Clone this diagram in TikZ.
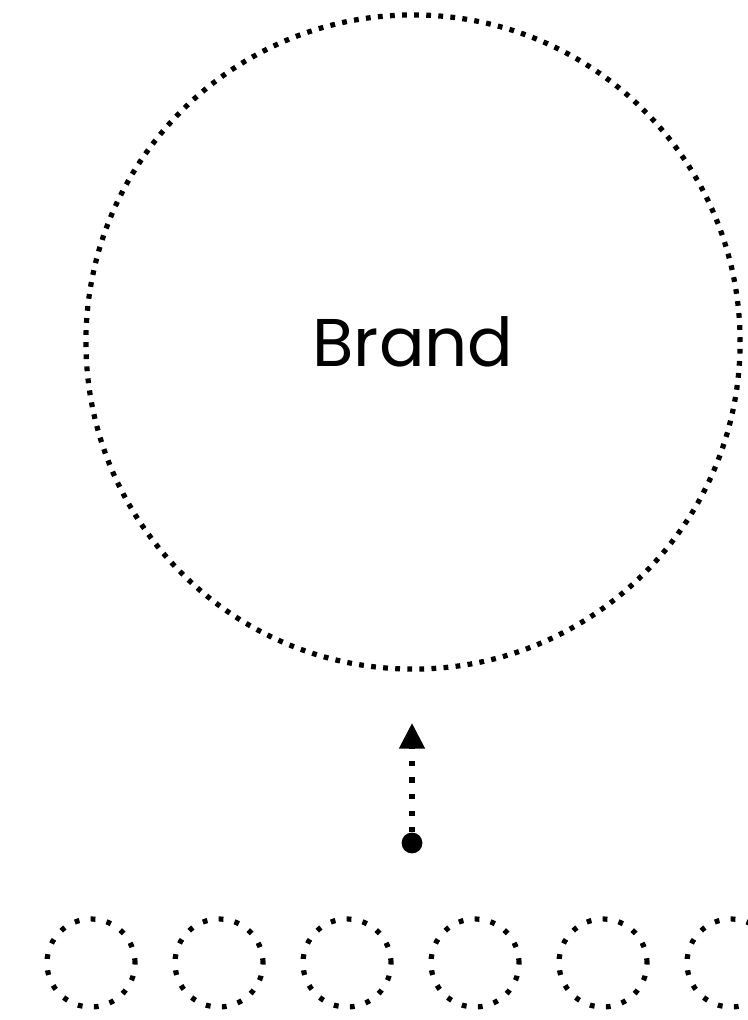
\documentclass[tikz,border=0pt]{standalone}
\usepackage{fontspec}
\setmainfont{Poppins}
\usetikzlibrary{positioning, shapes, arrows.meta, calc}

\begin{document}
\begin{tikzpicture}[
  x=0.025cm, y=-0.025cm,
  bigcircle/.style={draw, circle, inner sep=0pt, minimum size=16.35cm,
                    line width=3.7pt, dash pattern=on 3.4pt off 5.2pt,
                    font=\fontsize{48}{55}\selectfont},
  smallcircle/.style={draw, circle, inner sep=0pt, minimum size=2.2cm,
                      line width=3.7pt, dash pattern=on 3.4pt off 8.1pt},
  dotsource/.style={circle, fill, inner sep=0pt, minimum size=0.52cm},
  arrow/.style={-{Triangle[width=0.62cm, length=0.64cm]}, line width=3.8pt,
                dash pattern=on 3.6pt off 8.2pt}
]
  \useasboundingbox (0,0) rectangle (748,1020);
  \node[bigcircle] (brand) at (413,342) {Brand};
  \node[dotsource] (src) at (412,843) {};
  \coordinate (tip) at (412,723);
  \draw[arrow] (src) -- (tip);
  % row of items
  \foreach \i in {0,...,5}
    \node[smallcircle] (item\i) at (91+128*\i,963) {};
\end{tikzpicture}
\end{document}
